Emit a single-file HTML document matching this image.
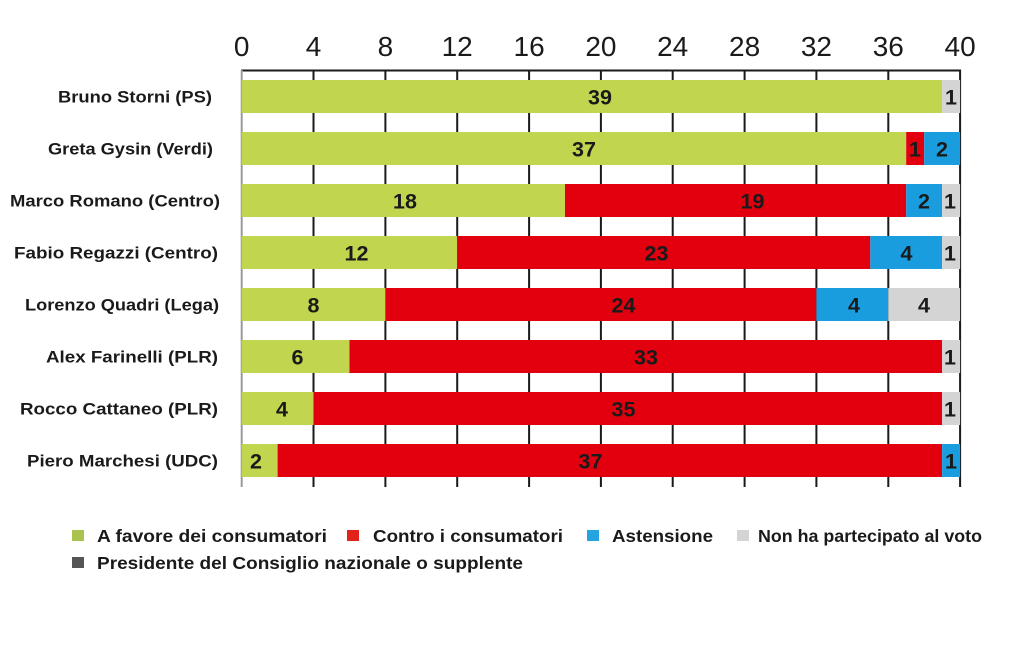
<!DOCTYPE html>
<html><head><meta charset="utf-8"><style>
html,body{margin:0;padding:0;background:#fff;}
svg{display:block;}
text{font-family:"Liberation Sans",sans-serif;fill:#1a1a1a;}
.tk{font-size:28px;text-anchor:middle;}
.lb{font-size:17px;font-weight:bold;text-anchor:end;}
.v{font-size:21.5px;font-weight:bold;text-anchor:middle;}
.lg{font-size:17.5px;font-weight:bold;}
</style></head><body>
<svg width="1024" height="646" viewBox="0 0 1024 646" xmlns="http://www.w3.org/2000/svg">
<rect width="1024" height="646" fill="#fff"/>
<!-- tick labels -->
<g class="tk">
<text x="241.7" y="56" class="tk">0</text>
<text x="313.5" y="56" class="tk">4</text>
<text x="385.4" y="56" class="tk">8</text>
<text x="457.2" y="56" class="tk">12</text>
<text x="529.1" y="56" class="tk">16</text>
<text x="600.9" y="56" class="tk">20</text>
<text x="672.7" y="56" class="tk">24</text>
<text x="744.6" y="56" class="tk">28</text>
<text x="816.4" y="56" class="tk">32</text>
<text x="888.3" y="56" class="tk">36</text>
<text x="960.1" y="56" class="tk">40</text>
</g>
<!-- grid lines -->
<g stroke="#1a1a1a" stroke-width="2">
<line x1="313.5" y1="70" x2="313.5" y2="487"/>
<line x1="385.4" y1="70" x2="385.4" y2="487"/>
<line x1="457.2" y1="70" x2="457.2" y2="487"/>
<line x1="529.1" y1="70" x2="529.1" y2="487"/>
<line x1="600.9" y1="70" x2="600.9" y2="487"/>
<line x1="672.7" y1="70" x2="672.7" y2="487"/>
<line x1="744.6" y1="70" x2="744.6" y2="487"/>
<line x1="816.4" y1="70" x2="816.4" y2="487"/>
<line x1="888.3" y1="70" x2="888.3" y2="487"/>
<line x1="960.1" y1="70" x2="960.1" y2="487"/>
<line x1="241" y1="70.5" x2="961" y2="70.5"/>
</g>
<line x1="241.7" y1="70" x2="241.7" y2="487" stroke="#9a9a9a" stroke-width="2"/>

<!-- bars -->
<rect x="241.7" y="80" width="700.4" height="33" fill="#c2d54f"/>
<rect x="942.1" y="80" width="18" height="33" fill="#d4d4d4"/>
<rect x="241.7" y="132" width="664.5" height="33" fill="#c2d54f"/>
<rect x="906.2" y="132" width="18" height="33" fill="#e2000f"/>
<rect x="924.2" y="132" width="35.9" height="33" fill="#1a9ddf"/>
<rect x="241.7" y="184" width="323.3" height="33" fill="#c2d54f"/>
<rect x="565" y="184" width="341.2" height="33" fill="#e2000f"/>
<rect x="906.2" y="184" width="35.9" height="33" fill="#1a9ddf"/>
<rect x="942.1" y="184" width="18" height="33" fill="#d4d4d4"/>
<rect x="241.7" y="236" width="215.5" height="33" fill="#c2d54f"/>
<rect x="457.2" y="236" width="413.1" height="33" fill="#e2000f"/>
<rect x="870.3" y="236" width="71.8" height="33" fill="#1a9ddf"/>
<rect x="942.1" y="236" width="18" height="33" fill="#d4d4d4"/>
<rect x="241.7" y="288" width="143.7" height="33" fill="#c2d54f"/>
<rect x="385.4" y="288" width="431" height="33" fill="#e2000f"/>
<rect x="816.4" y="288" width="71.9" height="33" fill="#1a9ddf"/>
<rect x="888.3" y="288" width="71.8" height="33" fill="#d4d4d4"/>
<rect x="241.7" y="340" width="107.8" height="33" fill="#c2d54f"/>
<rect x="349.5" y="340" width="592.6" height="33" fill="#e2000f"/>
<rect x="942.1" y="340" width="18" height="33" fill="#d4d4d4"/>
<rect x="241.7" y="392" width="71.8" height="33" fill="#c2d54f"/>
<rect x="313.5" y="392" width="628.6" height="33" fill="#e2000f"/>
<rect x="942.1" y="392" width="18" height="33" fill="#d4d4d4"/>
<rect x="241.7" y="444" width="35.9" height="33" fill="#c2d54f"/>
<rect x="277.6" y="444" width="664.5" height="33" fill="#e2000f"/>
<rect x="942.1" y="444" width="18" height="33" fill="#1a9ddf"/>

<!-- value labels -->
<g class="v">
<text x="600" y="104.5" class="v">39</text>
<text x="951" y="104.5" class="v">1</text>
<text x="584" y="156.5" class="v">37</text>
<text x="915" y="156.5" class="v">1</text>
<text x="942" y="156.5" class="v">2</text>
<text x="405" y="208.5" class="v">18</text>
<text x="752.5" y="208.5" class="v">19</text>
<text x="924" y="208.5" class="v">2</text>
<text x="950" y="208.5" class="v">1</text>
<text x="356.5" y="260.5" class="v">12</text>
<text x="656.5" y="260.5" class="v">23</text>
<text x="906.5" y="260.5" class="v">4</text>
<text x="950" y="260.5" class="v">1</text>
<text x="313.5" y="312.5" class="v">8</text>
<text x="623.5" y="312.5" class="v">24</text>
<text x="854" y="312.5" class="v">4</text>
<text x="924" y="312.5" class="v">4</text>
<text x="297.5" y="364.5" class="v">6</text>
<text x="646" y="364.5" class="v">33</text>
<text x="950" y="364.5" class="v">1</text>
<text x="282" y="416.5" class="v">4</text>
<text x="623.5" y="416.5" class="v">35</text>
<text x="950" y="416.5" class="v">1</text>
<text x="256" y="468.5" class="v">2</text>
<text x="590.5" y="468.5" class="v">37</text>
<text x="951" y="468.5" class="v">1</text>
</g>

<!-- category labels -->
<text x="212" y="102.5" class="lb" textLength="154" lengthAdjust="spacingAndGlyphs">Bruno Storni (PS)</text>
<text x="213" y="154.5" class="lb" textLength="165" lengthAdjust="spacingAndGlyphs">Greta Gysin (Verdi)</text>
<text x="220" y="206.5" class="lb" textLength="210" lengthAdjust="spacingAndGlyphs">Marco Romano (Centro)</text>
<text x="218" y="258.5" class="lb" textLength="204" lengthAdjust="spacingAndGlyphs">Fabio Regazzi (Centro)</text>
<text x="219" y="310.5" class="lb" textLength="194" lengthAdjust="spacingAndGlyphs">Lorenzo Quadri (Lega)</text>
<text x="218" y="362.5" class="lb" textLength="172" lengthAdjust="spacingAndGlyphs">Alex Farinelli (PLR)</text>
<text x="218" y="414.5" class="lb" textLength="198" lengthAdjust="spacingAndGlyphs">Rocco Cattaneo (PLR)</text>
<text x="218" y="466.5" class="lb" textLength="191" lengthAdjust="spacingAndGlyphs">Piero Marchesi (UDC)</text>

<!-- legend -->
<rect x="72" y="530" width="12" height="11" fill="#a9c34e"/>
<text x="97" y="542" class="lg" textLength="230" lengthAdjust="spacingAndGlyphs">A  favore dei consumatori</text>
<rect x="347" y="530" width="12" height="11" fill="#e2231a"/>
<text x="373" y="542" class="lg" textLength="190" lengthAdjust="spacingAndGlyphs">Contro i consumatori</text>
<rect x="587" y="530" width="12" height="11" fill="#26a4e1"/>
<text x="612" y="542" class="lg" textLength="101" lengthAdjust="spacingAndGlyphs">Astensione</text>
<rect x="737" y="530" width="12" height="11" fill="#d4d4d4"/>
<text x="758" y="542" class="lg" textLength="224" lengthAdjust="spacingAndGlyphs">Non ha partecipato al voto</text>
<rect x="72" y="557" width="12" height="11" fill="#555555"/>
<text x="97" y="569" class="lg" textLength="426" lengthAdjust="spacingAndGlyphs">Presidente del Consiglio nazionale o supplente</text>
</svg>
</body></html>
